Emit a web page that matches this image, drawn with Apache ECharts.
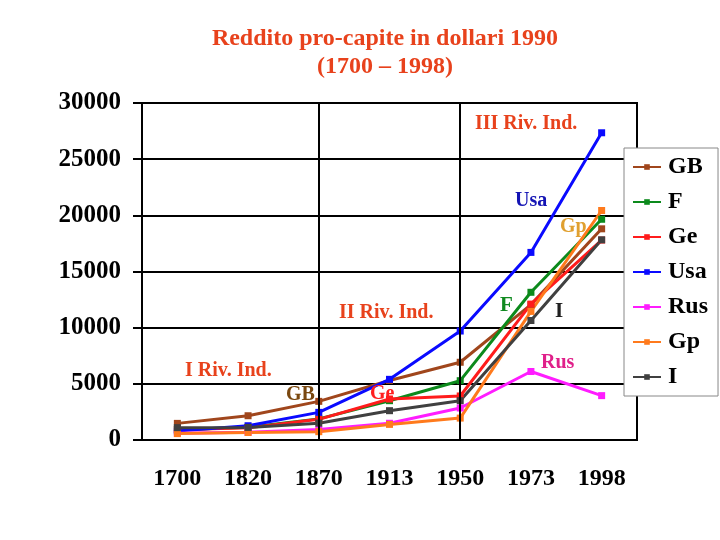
<!DOCTYPE html>
<html><head><meta charset="utf-8">
<script src="https://cdn.jsdelivr.net/npm/echarts@6/dist/echarts.min.js"></script>
<style>html,body{margin:0;padding:0;background:#fff}#c{width:720px;height:540px}</style>
</head><body><div id="c"></div>
<script>
const years = ['1700','1820','1870','1913','1950','1973','1998'];
const yTicks = [0, 5000, 10000, 15000, 20000, 25000, 30000];
const GB  = [1480, 2160, 3440, 5300, 6920, 12050, 18800];
const F   = [910, 1135, 1880, 3500, 5280, 13150, 19650];
const Ge  = [910, 1080, 1840, 3650, 3920, 12100, 17800];
const Usa = [800, 1270, 2460, 5400, 9700, 16700, 27350];
const Rus = [610, 690, 940, 1490, 2850, 6100, 3950];
const Gp  = [570, 670, 740, 1390, 1950, 11450, 20430];
const I   = [1100, 1120, 1500, 2610, 3500, 10640, 17820];
const revolutionYears = ['1870', '1950'];

const serif = '"Liberation Serif","Times New Roman",serif';
const names = ['GB','F','Ge','Usa','Rus','Gp','I'];
const datas = [GB,F,Ge,Usa,Rus,Gp,I];
const colors = ['#a0461c','#0c8a1c','#ff1c1c','#0a0aff','#ff1cff','#ff7a1c','#404040'];

const series = names.map((n,i)=>({
  name:n, type:'line', data:datas[i], symbol:'rect', symbolSize:7,
  lineStyle:{width:3,color:colors[i]}, itemStyle:{color:colors[i]},
  z: 3
}));
series[0].markLine = {
  silent:true, symbol:'none', label:{show:false},
  lineStyle:{color:'#000',width:2,type:'solid'},
  data: revolutionYears.map(y=>({xAxis:y}))
};

function txt(x,y,s,color,size){
  return {type:'text', left:x, top:y, z:10,
    style:{text:s, fill:color, font:'bold '+(size||20)+'px '+serif}};
}

const chart = echarts.init(document.getElementById('c'));
chart.setOption({
  animation:false,
  backgroundColor:'#fff',
  title:{
    text:'Reddito pro-capite in dollari 1990\n(1700 – 1998)',
    left:380, textAlign:'center', top:20,
    textStyle:{fontFamily:serif, fontWeight:'bold', fontSize:24, color:'#e8421c', lineHeight:28}
  },
  grid:{left:142, right:83, top:103, bottom:100, show:true, borderColor:'#000', borderWidth:2, backgroundColor:'#fff'},
  xAxis:{type:'category', data:years, boundaryGap:true,
    axisLine:{lineStyle:{color:'#000',width:2}}, axisTick:{show:false},
    axisLabel:{color:'#000', fontFamily:serif, fontWeight:'bold', fontSize:24, margin:27},
    splitLine:{show:false}
  },
  yAxis:{type:'value', min:0, max:30000, interval:5000,
    axisLine:{show:true,lineStyle:{color:'#000',width:2}},
    axisTick:{show:true, inside:false, length:9, lineStyle:{color:'#000',width:2}},
    axisLabel:{color:'#000', fontFamily:serif, fontWeight:'bold', fontSize:25, margin:21,
      formatter:v=>String(v)},
    splitLine:{show:true, lineStyle:{color:'#000', width:2}}
  },
  legend:{
    orient:'vertical', left:624, top:148,
    backgroundColor:'#fff', borderColor:'#888', borderWidth:1,
    padding:[7,10,7,8], itemGap:11, itemWidth:28, itemHeight:7,
    textStyle:{fontFamily:serif, fontWeight:'bold', fontSize:24, color:'#000', padding:[0,0,0,2]},
    data:names
  },
  graphic:[
    txt(475,114,'III Riv. Ind.','#e8421c',20),
    txt(339,303,'II Riv. Ind.','#e8421c',20),
    txt(185,361,'I Riv. Ind.','#e8421c',20),
    txt(515,191,'Usa','#1414b4',20),
    txt(560,217,'Gp','#e0a030',20),
    txt(500,295,'F','#108a20',21),
    txt(555,301,'I','#202020',21),
    txt(541,353,'Rus','#e0208a',20),
    txt(286,385,'GB','#7a4810',20),
    txt(370,384,'Ge','#ff2020',20)
  ],
  series:series
});
</script></body></html>
